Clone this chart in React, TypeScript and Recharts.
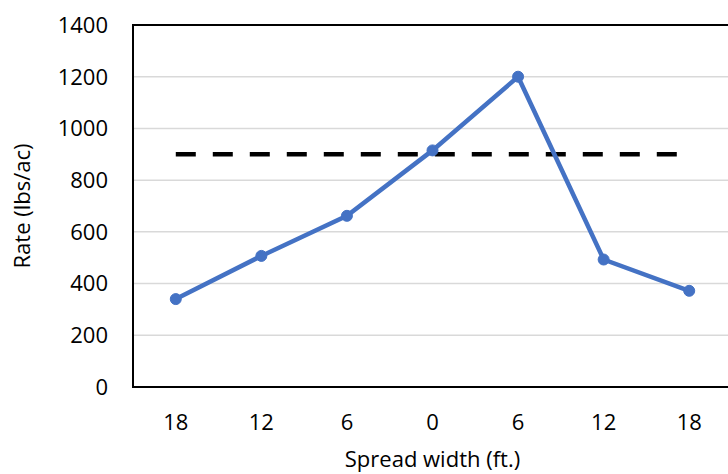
import { LineChart, Line, XAxis, YAxis, CartesianGrid, ReferenceArea } from "recharts";

const distances = ["18", "12", "6", "0", "6", "12", "18"];
const rates = [340, 507, 662, 915, 1200, 493, 372];
const targetRate = [900, 900, 900, 900, 900, 900, 900];
const yTicks = [0, 200, 400, 600, 800, 1000, 1200, 1400];

const data = distances.map((d, i) => ({
  key: i,
  label: d,
  rate: rates[i],
  target: targetRate[i],
}));

const font = "'Open Sans', sans-serif";

export default function App() {
  return (
    <div
      style={{
        position: "absolute",
        left: 0,
        top: 0,
        width: 728,
        height: 474,
        overflow: "hidden",
        background: "#fff",
        fontFamily: font,
      }}
    >
      <LineChart
        width={740}
        height={474}
        data={data}
        margin={{ top: 25, right: 8, bottom: 0, left: 0 }}
      >
        <CartesianGrid vertical={false} stroke="#d9d9d9" strokeWidth={1.5} />
        <XAxis
          dataKey="key"
          scale="band"
          tickFormatter={(v: number) => distances[v]}
          height={87}
          tickSize={0}
          tickMargin={27}
          axisLine={{ stroke: "#000", strokeWidth: 2 }}
          tickLine={false}
          tick={{ fill: "#000", fontSize: 22, fontFamily: font }}
          label={{
            value: "Spread width (ft.)",
            position: "insideBottom",
            offset: 7,
            fill: "#000",
            fontSize: 22,
            fontFamily: font,
          }}
        />
        <YAxis
          width={133}
          domain={[0, 1400]}
          ticks={yTicks}
          tickSize={0}
          tickMargin={25}
          axisLine={{ stroke: "#000", strokeWidth: 2 }}
          tickLine={false}
          tick={{ fill: "#000", fontSize: 22, fontFamily: font }}
          label={{
            value: "Rate (lbs/ac)",
            angle: -90,
            position: "insideLeft",
            offset: 22,
            fill: "#000",
            fontSize: 22,
            fontFamily: font,
            style: { textAnchor: "middle" },
          }}
        />
        <ReferenceArea y1={0} y2={1400} fill="none" stroke="#000" strokeWidth={2} />
        <Line
          dataKey="target"
          stroke="#000"
          strokeWidth={4.5}
          strokeDasharray="20 17"
          dot={false}
          isAnimationActive={false}
        />
        <Line
          dataKey="rate"
          stroke="#4472c4"
          strokeWidth={4.5}
          dot={{ r: 5.5, fill: "#4472c4", stroke: "#4472c4", strokeWidth: 1 }}
          isAnimationActive={false}
        />
      </LineChart>
    </div>
  );
}
